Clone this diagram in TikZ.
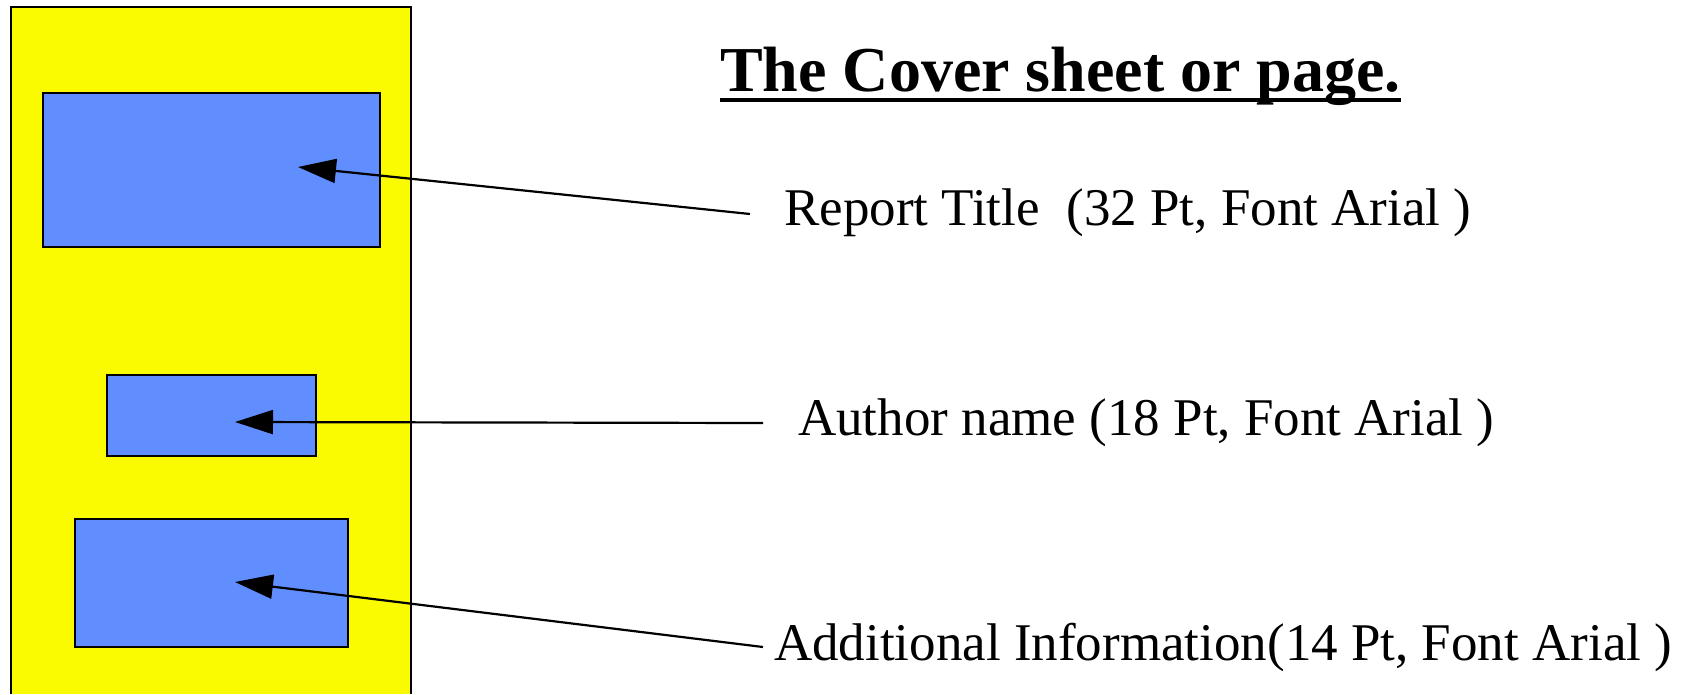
\documentclass[tikz,border=0pt]{standalone}
\usepackage{fontspec}
\setmainfont{Liberation Serif}
\usetikzlibrary{arrows.meta}
\definecolor{pagefill}{RGB}{250,250,0}
\definecolor{fieldfill}{RGB}{97,142,255}
\tikzset{
  pagebox/.style={fill=pagefill},
  fieldbox/.style={draw=black, line width=2.5pt, fill=fieldfill, inner sep=0pt},
  label/.style={anchor=base west, inner sep=0pt, font=\fontsize{53}{60}\selectfont},
  pointer/.style={draw=black, line width=2.2pt, -{Triangle[length=38pt,width=24pt]}},
}
\begin{document}
\begin{tikzpicture}[x=1pt,y=-1pt]
  \useasboundingbox (0,0) rectangle (1691,694);
  % the page (runs off the bottom edge)
  \fill[pagebox] (11,7) rectangle (411,694);
  \draw[line width=2.5pt] (11,694) -- (11,7) -- (411,7) -- (411,694);
  % fields on the page
  \node[fieldbox, minimum width=337pt, minimum height=154pt] (titlebox) at (211.5,170) {};
  \node[fieldbox, minimum width=209pt, minimum height=81pt] (authorbox) at (211.5,415.5) {};
  \node[fieldbox, minimum width=273pt, minimum height=128pt] (infobox) at (211.5,583) {};
  % heading
  \node[anchor=base west, inner sep=0pt, font=\bfseries\fontsize{64}{70}\selectfont] (heading) at (720,91) {The Cover sheet or page.};
  \draw[line width=4.5pt] ([yshift=-9pt]heading.base west) -- ([yshift=-9pt]heading.base east);
  % labels
  \node[label] (titlelabel) at (784,225) {Report Title\ \ (32 Pt, Font Arial )};
  \node[label] (authorlabel) at (798,435) {Author name (18 Pt, Font Arial )};
  \node[label] (infolabel) at (774,660) {Additional Information(14 Pt, Font Arial )};
  % pointer ends
  \coordinate (titlefrom) at (750,214);
  \coordinate (authorfrom) at (763,423);
  \coordinate (infofrom) at (763,647);
  \coordinate (titleto) at (298,167);
  \coordinate (authorto) at (235,422);
  \coordinate (infoto) at (235,582);
  \draw[pointer] (titlefrom) -- (titleto);
  \draw[pointer] (authorfrom) -- (authorto);
  \draw[pointer] (infofrom) -- (infoto);
\end{tikzpicture}
\end{document}
